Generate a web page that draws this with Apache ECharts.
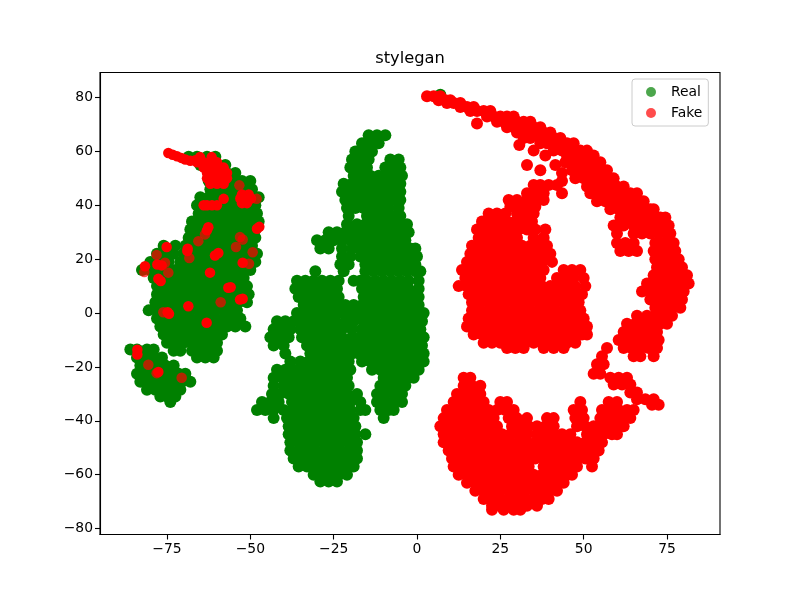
<!DOCTYPE html>
<html><head><meta charset="utf-8">
<script src="https://cdn.jsdelivr.net/npm/echarts@6/dist/echarts.min.js"></script>
<style>html,body{margin:0;background:#fff}#c{width:800px;height:600px}</style></head>
<body><div id="c"></div>
<script>
// Each row: y followed by the x values read at that height.
const realLeftRows = [
[58,-68.5,-66,-63,-60.5],[55,-65,-62.5,-60,-57.5],[52,-62,-59.5,-57,-54.5],
[49,-62.5,-60,-57.5,-55,-52.5,-50],[46,-62,-59.5,-57,-54.5,-52,-49.5],
[43,-65,-62.5,-60,-57.5,-55,-52.5,-50,-47.5],[40,-66,-63.5,-61,-58.5,-56,-53.5,-51,-48.5],
[37,-65.5,-63,-60.5,-58,-55.5,-53,-50.5,-48],[34,-67.5,-65,-62.5,-60,-57.5,-55,-52.5,-50,-47.5],
[31,-68,-65.5,-63,-60.5,-58,-55.5,-53,-50.5,-48.5],[28,-68.5,-66,-63.5,-61,-58.5,-56,-53.5,-51,-48.5],
[25,-76,-72.5,-69.5,-67,-64.5,-62,-59.5,-57,-54.5,-52,-49.5],
[22,-78,-75.5,-73,-70,-67.5,-65,-62.5,-60,-57.5,-55,-52.5,-50,-48],
[19,-80,-77,-74.5,-71,-68.5,-66,-63.5,-61,-58.5,-56,-53.5,-51,-48.5],
[16,-82.5,-80,-77.5,-75,-72.5,-70,-67.5,-65,-62.5,-60,-57.5,-55,-52.5,-50],
[13,-79,-76.5,-74,-71.5,-69,-66.5,-64,-61.5,-59,-56.5,-54,-52],
[10,-78,-75.5,-73,-70.5,-68,-65.5,-63,-60.5,-58,-55.5,-53,-51],
[7,-78,-75.5,-73,-70.5,-68,-65.5,-63,-60.5,-58,-55.5,-53,-50.5],
[4,-78.5,-76,-73.5,-71,-68.5,-66,-63.5,-61,-58.5,-56,-53.5,-51],
[1,-80.5,-78,-75.5,-73,-70.5,-68,-65.5,-63,-60.5,-58,-55.5,-54],
[-2,-78,-75.5,-73,-70.5,-68,-65.5,-63,-60.5,-58,-55.5,-53],
[-5,-77,-74.5,-72,-69.5,-67,-64.5,-62,-59.5,-57,-54.5,-51.5],
[-8,-76,-73.5,-71,-68.5,-66,-63.5,-61,-58.5],[-11,-75,-72.5,-70,-67.5,-65,-62.5,-60],
[-14,-73,-71,-67.5,-65,-62.5,-60],[-16.5,-66,-63.5,-61]
];
const realIslandRows = [
[-13.5,-86,-84,-81,-79],[-16.5,-84,-81.5,-79,-76.5],[-19.5,-83,-80.5,-78,-75.5,-73],
[-22.5,-84,-81.5,-79,-76.5,-74,-71.5,-69.5],[-25.5,-83,-80.5,-78,-75.5,-73,-70.5,-68],
[-28.5,-81,-78.5,-76,-73.5,-71],[-31,-77,-75,-72.5],[-33,-74]
];
const realCenterRows = [
[66,-14.5,-12,-9.5],[63,-16.5,-14,-11.5],[60,-18.5,-16,-13.5],
[57,-19.5,-17,-14.5,-8,-5.5],[54,-20,-17.5,-15,-9.5,-7,-5],
[51,-19,-16.5,-14,-11.5,-9,-6.5,-4.5],[48,-22,-19.5,-17,-14.5,-12,-9.5,-7,-5],
[45,-22.5,-20,-17.5,-15,-12.5,-10,-7.5,-5],[42,-21.5,-19,-16.5,-14,-11.5,-9,-6.5,-5],
[39,-21,-18.5,-16,-13.5,-11,-8.5,-5.5],[36,-20.5,-15,-12.5,-10,-7.5,-5],
[33,-21,-18,-15.5,-13,-10.5,-8,-5.5,-3],[30,-26.5,-24,-21.5,-19,-16.5,-14,-11.5,-9,-6.5,-4,-2.5],
[27,-30,-27.5,-25,-22.5,-20,-17.5,-15,-12.5,-10,-7.5,-5,-3.5],
[24,-29,-26.5,-22.5,-19.5,-17,-14.5,-12,-9.5,-7,-4.5,-2,-0.5],
[21,-22.5,-20,-17,-14.5,-12,-9.5,-7,-4.5,-2,0],[18,-23,-20.5,-15.5,-13,-10.5,-8,-5.5,-3,-0.5],
[15.5,-30.5,-22,-15.5,-13,-10.5,-8,-5.5,-3,-0.5,1],
[12,-36,-33.5,-31,-28.5,-26,-23.5,-19,-17,-15,-12.5,-10,-7.5,-5,-2.5,0.5],
[9,-36.5,-34,-31.5,-29,-26.5,-24,-16.5,-15,-12.5,-10,-7.5,-5,-2.5,0.5],
[6,-35.5,-33,-30.5,-28,-25.5,-23.5,-16,-13.5,-11,-8.5,-6,-3.5,-1,0.5],
[3,-34,-31.5,-29,-26.5,-24,-21.5,-19,-16.5,-14,-11.5,-9,-6.5,-4,-1.5,0.5],
[0,-36,-33.5,-31,-28.5,-26,-23.5,-22,-20,-17.5,-15,-12.5,-10,-7.5,-5,-2.5,0,2],
[-3,-42,-39.5,-37,-34.5,-32,-29.5,-27,-24.5,-21.5,-19,-16,-13.5,-11,-8.5,-6,-3.5,-1,1.5],
[-6,-43,-40.5,-38,-35,-32.5,-30,-27.5,-25,-22.5,-19.5,-16.5,-14,-11.5,-9,-6.5,-4,-1.5,1],
[-9,-44,-41.5,-38.5,-34.5,-32,-29.5,-27,-24.5,-22.5,-19.5,-17,-14.5,-12,-9.5,-7,-4.5,-2,0.5,2],
[-12,-43,-40,-33,-30.5,-28,-25.5,-23,-20.5,-18,-15.5,-13,-10.5,-8,-5.5,-3,-0.5,1.5],
[-15,-39.5,-32,-29.5,-27,-24.5,-22,-19.5,-17.5,-15,-12.5,-10,-7.5,-5,-2.5,0,2],
[-18,-38,-35,-32.5,-30,-27.5,-25,-22.5,-20.5,-16.5,-14,-11.5,-9,-6.5,-4,-1.5,1,2],
[-21,-42,-39.5,-37,-34.5,-32,-29.5,-27,-24.5,-22,-20,-13.5,-11,-8.5,-6,-3.5,-1,0.5],
[-24,-43,-40.5,-38,-35.5,-33,-30.5,-28,-25.5,-23,-21,-10,-7.5,-5,-2.5,-1],
[-27,-43,-40,-37.5,-35,-32.5,-30,-27.5,-25,-22.5,-20.5,-11,-8.5,-6,-3.5],
[-30,-43.5,-41,-38.5,-36,-33.5,-31,-28.5,-26,-23.5,-21,-18,-12,-9.5,-7,-4.5],
[-33,-46.5,-44,-41.5,-37.5,-35,-32.5,-30,-27.5,-25,-22.5,-20,-17,-12,-9.5,-7,-4.5],
[-36,-48,-45.5,-43,-40,-37.5,-35,-32.5,-30,-27.5,-25,-22.5,-20,-17,-15.5,-11,-8.5,-7],
[-39,-43,-39,-36.5,-34,-31.5,-29,-26.5,-24,-21.5,-19,-10],
[-42,-38.5,-36,-33.5,-31,-28.5,-26,-23.5,-21,-18.5],
[-45,-38.5,-36,-33.5,-31,-28.5,-26,-23.5,-21,-18.5,-15.5],
[-48,-38,-35.5,-33,-30.5,-28,-25.5,-23,-20.5,-18],
[-51,-38,-35.5,-33,-30.5,-28,-25.5,-23,-20.5,-18],
[-54,-37,-34.5,-32,-29.5,-27,-24.5,-22,-19.5,-18],
[-57,-35.5,-33,-30.5,-28,-25.5,-23,-20.5,-19],
[-60,-31,-28.5,-26,-23.5,-21],[-62.5,-29,-26.5,-24]
];
const fakeArcRows = [
[80.5,3,5,7],[79,6.5,8.5,10],[78,9,11,13],[76.5,13,15,17],[75,16,18,20,22],[73,21,23,25,27,29],
[71,24,26,28,30,32,34],[69,27,29,31,33,35,37],[67,30,32,34,36,38,40],[65,32,34,37,39,41,43],
[63,37,39,41,43,45,47],[60.3,35,41,43.5,45.5,47.5,49,51],[58.5,38.5,45,47,49,51,53],[56,44.5,47,49,51,53,55],
[53,46.5,49,51,53,55,57],[50,47.5,50,52.5,55,57,59],[47,51,53,55.5,58,60,62],[70.4,18],[62.4,30.7],[55,33,41.5],[53,37]
];
const fakeBandRows = [
[44.5,52,54.5,57,59.5,62,64,66],[41.5,54,56.5,59,61.5,64,66,68],[38.5,58,60.5,63,65.5,68,70,71],
[35.5,61,63.5,66,68.5,71,73,74.5],[32.5,59,62,65,67.5,70,72.5,74,75.5],[29.5,60,65,67.5,70,72.5,75,76],
[26,60,62.5,65,71.5,74,76,77],[23,61,63.5,66,71,73.5,76,77.5],[20,71.5,74,76.5,78.5],
[17,72,74.5,77,79.5],[14,71,73.5,76,78.5,81],[11,69,71.5,74,76.5,79,81.5],
[8,67.5,70,72.5,75,77.5,80],[5,70,72.5,75,77.5,79.5],[2,71.5,74,76.5,79],
[-1,66,69,71.5,74,76.5],[-4,63,65.5,68,70.5,73,75],[-7,62,64.5,67,69.5,72],
[-10,60.5,63,65.5,68,70.5,72.5],[-13,57,62,64.5,67,69.5,72],[-16,55.5,65,67,71],[-19,54,56],
[-22.5,53,55],[-24,58,60.5,63],[-26.5,59,61.5,64],[-29.5,64,66],[-32,66,68.5,71],[-34,70.5,72.5]
];
const fakeUpperRows = [
[52,43.5],[49,43.5],[47.5,35,37,39.5,42],[44.5,33,35.5,38,43.5],[42,27.5,30,33,35.5,38],
[39.5,28,30.5,33,35.5],[37,21.5,24,26.5,30,32.5,35],[34,19.5,22,24.5,27,29.5,32,34.5],
[31,18,20.5,23,25.5,28,30.5,33,35.5,38.5],[28,18.5,21,23.5,26,28.5,30,35,38],
[25,16.5,19,21.5,24,26.5,29,31.5,34,36.5,39],[22,16,18.5,21,23.5,26,28.5,31,33.5,36,38.5,40],
[19,15,17.5,20,22.5,25,27.5,30,32.5,35,37.5,40.5],
[16,13.5,16,18.5,21,23.5,26,28.5,31,33.5,36,38,44,46.5,49],
[13,14.5,17,19.5,22,24.5,27,29.5,32,34.5,37,42,44.5,47,50],
[10,12.5,15,17.5,20,22.5,25,27.5,30,32.5,35,37.5,40,42.5,45,47.5,50.5],
[7,15.5,18,20.5,23,25.5,28,30.5,33,35.5,38,40.5,43,45.5,48,49.5],
[4,16.5,19,21.5,24,26.5,29,31.5,34,36.5,39,41.5,44,46.5,48.5],
[1,16.5,19,21.5,24,26.5,29,31.5,34,36.5,39,41.5,44,46.5,49],
[-2,15.5,18,20.5,23,25.5,28,30.5,33,35.5,38,40.5,43,45.5,48,50],
[-5,15,17.5,20,22.5,25,27.5,30,32.5,35,37.5,40,42.5,45,47.5,50,51],
[-8,17,19.5,22,24.5,27,29.5,32,34.5,37,39.5,42,44.5,47,49.5,51],
[-11,20,22.5,25,27.5,30,32.5,35,37.5,40,42.5,45,47.5],[-13,27,29.5,32,38,41,44]
];
const fakeLowerRows = [
[-24,14,16],[-27,14,16.5,19],[-30,12,14.5,17,19],[-33,11,13.5,16,18.5,20,25,27,49,57.5,60],
[-36,9,11.5,14,16.5,19,21.5,24,26.5,29,47,49.5,55.5,58,60.5,63,65],
[-39,8,10.5,13,15.5,18,20.5,23,27.5,30,33,39,41,47.5,50,55,57.5,60,62.5,64],
[-42,7,9.5,12,14.5,17,19.5,22,24,28.5,31,33.5,36,38.5,41,48,50.5,53,55.5,58,60.5,62],
[-45,8,10.5,13,15.5,18,20.5,23,25.5,28,30.5,33,36,38.5,41,43.5,46,51,53.5,56,58.5,60],
[-48,8,10.5,13,15.5,18,20.5,23,25.5,28,30.5,33,35.5,38,40.5,43,45.5,48,50.5,53,55.5],
[-51,9.5,12,14.5,17,19.5,22,24.5,27,29.5,32,34.5,37,39.5,42,44.5,47,49.5,52,54.5],
[-54,10.5,13,15.5,18,20.5,23,25.5,28,30.5,33,35.5,38,40.5,43,45.5,48,50.5,53],
[-57,11,13.5,16,18.5,21,23.5,26,28.5,31,33.5,38,40.5,43,45.5,48,52.5],
[-60,12.5,15,17.5,20,22.5,25,27.5,30,32.5,35,37.5,40,42.5,45,46.5],
[-63,15,17.5,20,22.5,25,27.5,30,32.5,35,37.5,40,42.5,44],
[-66,17.5,20,22.5,25,27.5,30,32.5,35,37.5,40,42],
[-69,20,22.5,25,27.5,30,32.5,35,37.5,39.5],[-71.5,22.5,25,27.5,30,33,36],[-73,22.5,26,29,31]
];
const fakeOnRealRows = [
[59.4,-74.6],[58.8,-73.3],[58.2,-72],[57.6,-70.7],[57,-69.5],[56.5,-68],[56.7,-66.5],[57.9,-65.1,-61.6],
[56,-66,-64,-62,-60],[54,-64,-62,-60,-58],[52,-63,-61,-59,-57],[50,-63,-61,-59,-57],[48,-62,-60,-58],
[42.4,-58],[40,-64,-63,-61.5,-60],[44,-52.5,-50.5],[42.5,-53,-51,-49.8],[40.8,-52.5,-51],
[31.3,-48],[32,-47.3],[31.9,-62.6],[30.7,-63],[23.9,-68.8],[23,-68.9],[24.5,-75.1],[21.4,-60.6],
[22.3,-59.6],[18.7,-52.3],[17.4,-81.6],[18,-77.9],[17.7,-76.6],[12.7,-77.6],[11.9,-76.9],[15,-62.1],
[9.4,-56.6],[9.6,-55.9],[5.3,-52.3],[5,-53.1],[2.5,-68.6],[-0.3,-74.4],[0.3,-74.8],[-3.6,-63.1],
[-13.6,-83.9],[-15.4,-83.9],[-21.9,-77.6]
];
const fakeFaintRows = [
[47.4,-53.3],[42.4,-48.1],[26.7,-65.6],[29.2,-63.6],[28.2,-53.1],[27.3,-52.3],[24.5,-54.3],[22.6,-49.3],
[20.4,-68.3],[21.6,-78.1],[18.7,-75.6],[15.2,-81.8],[15,-74.6],[18.3,-50.4],[4,-58.9],[0.3,-76.1],
[-19.2,-80.6],[-24,-70.6],[-22.3,-78.1]
];
const xTicks = [-75,-50,-25,0,25,50,75];
const yTicks = [-80,-60,-40,-20,0,20,40,60,80];
const seriesNames = ['Real','Fake'];
const titleText = 'stylegan';

const pts = rows => rows.flatMap(r => r.slice(1).map(x => [x, r[0]]));
const font = 'DejaVu Sans';
const minus = v => String(v).replace('-', '\u2212');
const axisBase = (ticks, min, max, margin, padding) => ({
  type:'value', min, max, splitLine:{show:false},
  axisLine:{show:true,onZero:false,lineStyle:{color:'#000',width:1.1}},
  axisTick:{show:true,length:5,customValues:ticks,lineStyle:{color:'#000',width:1.1}},
  axisLabel:{customValues:ticks,formatter:minus,color:'#000',fontFamily:font,fontSize:13.9,margin,padding}
});
const chart = echarts.init(document.getElementById('c'),null,{renderer:'canvas'});
chart.setOption({
  animation:false,
  backgroundColor:'#fff',
  title:{text:titleText,left:405,top:46,textAlign:'center',textStyle:{fontFamily:font,fontSize:16.3,fontWeight:'normal',color:'#000'}},
  grid:{left:100,right:80,top:72.5,bottom:65.5,show:true,borderColor:'#000',borderWidth:1.1,backgroundColor:'#fff'},
  xAxis:{...axisBase(xTicks,-95.1,90.9,8,0),position:'bottom'},
  yAxis:{...axisBase(yTicks,-82.2,89.3,7,[2,0,0,0]),position:'left'},
  legend:{
    data:[{name:seriesNames[0],icon:'circle',itemStyle:{color:'green',opacity:0.7}},
          {name:seriesNames[1],icon:'circle',itemStyle:{color:'red',opacity:0.7}}],
    orient:'vertical',left:632,top:79,padding:[6,6,6,14],itemWidth:30,itemHeight:10,itemGap:7,
    align:'left',backgroundColor:'rgba(255,255,255,0.8)',borderColor:'#ccc',borderWidth:1,borderRadius:3,
    textStyle:{fontFamily:font,fontSize:13.9,color:'#000'}
  },
  series:[
    {name:seriesNames[0],type:'scatter',symbolSize:12,itemStyle:{color:'green',opacity:1},
     data:[...pts(realLeftRows),...pts(realIslandRows),...pts(realCenterRows),[7,81]]},
    {name:seriesNames[1],type:'scatter',symbolSize:10.5,itemStyle:{color:'red',opacity:0.7},data:pts(fakeFaintRows)},
    {name:seriesNames[1],type:'scatter',symbolSize:10.5,itemStyle:{color:'red',opacity:1},data:pts(fakeOnRealRows)},
    {name:seriesNames[1],type:'scatter',symbolSize:12,itemStyle:{color:'red',opacity:1},
     data:[...pts(fakeArcRows),...pts(fakeBandRows),...pts(fakeUpperRows),...pts(fakeLowerRows)]}
  ]
});
</script></body></html>
